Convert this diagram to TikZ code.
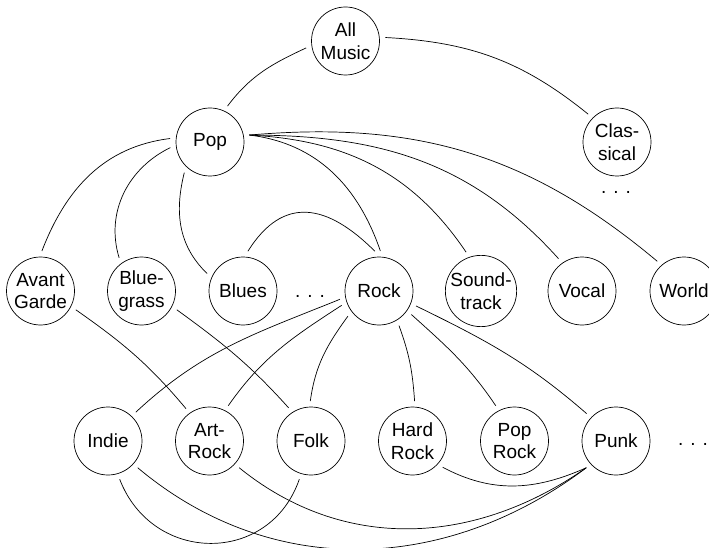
\documentclass[tikz,border=0pt]{standalone}
\usepackage{fontspec}
\setmainfont{Liberation Sans}
\begin{document}
\begin{tikzpicture}[x=1pt,y=1pt,
  genre/.style={draw, circle, line width=0.7pt, minimum size=68pt, inner sep=0pt, outer sep=6pt,
    align=center, font=\fontsize{19}{22.5}\selectfont},
  more/.style={anchor=base, inner sep=0pt, font=\fontsize{19}{22.5}\selectfont},
  link/.style={line width=0.7pt}]
\useasboundingbox (0,0) rectangle (709,547);
\node[genre] (AllMusic) at (345.5,506) {All\\Music};
\node[genre] (Pop) at (210,405) {Pop};
\node[genre] (Classical) at (617,405) {Clas-\\sical};
\node[more] (cdots) at (616,353) {.\hspace{7pt}.\hspace{7pt}.};
\node[genre] (Avant) at (40.5,256) {Avant\\Garde};
\node[genre] (Bluegrass) at (141.5,256) {Blue-\\grass};
\node[genre] (Blues) at (243,256) {Blues};
\node[more] (rdots) at (310,250) {.\hspace{7pt}.\hspace{7pt}.};
\node[genre] (Rock) at (379,256) {Rock};
\node[genre] (Soundtrack) at (481,256) {Sound-\\track};
\node[genre] (Vocal) at (582,256) {Vocal};
\node[genre] (World) at (684,256) {World};
\node[genre] (Indie) at (108,106) {Indie};
\node[genre] (ArtRock) at (209.5,106) {Art-\\Rock};
\node[genre] (Folk) at (311,106) {Folk};
\node[genre] (HardRock) at (412.5,106) {Hard\\Rock};
\node[genre] (PopRock) at (514.5,106) {Pop\\Rock};
\node[genre] (Punk) at (616,106) {Punk};
\node[more] (bdots) at (693,102) {.\hspace{7pt}.\hspace{7pt}.};

\draw[link] (AllMusic.190) to[out=205, in=53] (Pop.64);
\draw[link] (AllMusic.5) to[out=-3, in=141] (Classical.136);
\draw[link] (Pop.175) to[out=187, in=69] (Avant.88);
\draw[link] (Pop.188) to[out=206, in=107] (Bluegrass.124);
\draw[link] (Pop.230) to[out=256, in=136] (Blues.154);
\draw[link] (Pop.10) to[out=-7, in=109] (Rock.88);
\draw[link] (Pop.10) to[out=-3, in=124] (Soundtrack.111);
\draw[link] (Pop.10) to[out=0, in=132] (Vocal.126);
\draw[link] (Pop.10) to[out=5, in=140] (World.132);
\draw[link] (Blues.83) to[out=58, in=135, looseness=1.35] (Rock.96);
\draw[link] (Rock.192) to[out=202, in=43] (Indie.46);
\draw[link] (Rock.201) to[out=213, in=55] (ArtRock.62);
\draw[link] (Rock.219) to[out=234, in=82] (Folk.91);
\draw[link] (Rock.-60) to[out=-70, in=94] (HardRock.87);
\draw[link] (Rock.-36) to[out=-42, in=124] (PopRock.118);
\draw[link] (Rock.-22) to[out=-26, in=139] (Punk.137);
\draw[link] (Avant.-28) to[out=-35, in=130] (ArtRock.126);
\draw[link] (Bluegrass.-28) to[out=-36, in=132] (Folk.124);
\draw[link] (Indie.-73) to[out=-69, in=251, looseness=1.3] (Folk.253);
\draw[link] (Indie.-42) to[out=-40, in=217] (Punk.222);
\draw[link] (ArtRock.-42) to[out=-39, in=215] (Punk.222);
\draw[link] (HardRock.-41) to[out=-28, in=204] (Punk.222);
\end{tikzpicture}
\end{document}
